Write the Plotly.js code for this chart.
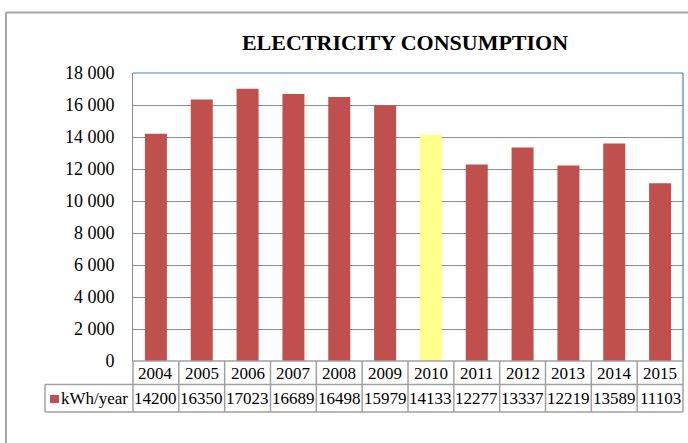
<!DOCTYPE html>
<html>
<head>
<meta charset="utf-8">
<script src="https://cdn.plot.ly/plotly-3.0.1.min.js"></script>
<style>
  html, body { margin: 0; padding: 0; background: #fff; }
  #chart { width: 688px; height: 443px; }
</style>
</head>
<body>
<div id="chart"></div>
<script>
// ---- data ----
const years = ['2004','2005','2006','2007','2008','2009','2010','2011','2012','2013','2014','2015'];
const consumption = [14200, 16350, 17023, 16689, 16498, 15979, 14133, 12277, 13337, 12219, 13589, 11103];
const highlightYear = '2010';
const seriesName = 'kWh/year';
const chartTitle = 'ELECTRICITY CONSUMPTION';
const yTickVals = [0, 2000, 4000, 6000, 8000, 10000, 12000, 14000, 16000, 18000];
const yTickText = ['0', '2 000', '4 000', '6 000', '8 000', '10 000', '12 000', '14 000', '16 000', '18 000'];

// ---- geometry (pixels) ----
const W = 688, H = 443;
const L = 133, R = 683, T = 73, B = 361;
const pw = R - L, ph = B - T;
const px = x => (x - L) / pw;        // pixel x -> paper x
const py = y => (B - y) / ph;        // pixel y -> paper y

const barColor = '#C0504D';
const hiColor = '#FFFF8C';
const gridCol = '#8c8c8c';
const cellCol = '#a0a0a0';
const blue = '#4F81BD';
const font = '"Liberation Serif", "Times New Roman", serif';

const colors = years.map(y => y === highlightYear ? hiColor : barColor);

const shapes = [];
const annotations = [];

// outer chart frame
shapes.push({type:'line', xref:'paper', yref:'paper', x0:px(6), x1:px(6), y0:py(12.5), y1:py(460), line:{color:'#a6a6a6', width:2}});
shapes.push({type:'line', xref:'paper', yref:'paper', x0:px(6), x1:px(700), y0:py(12.5), y1:py(12.5), line:{color:'#a6a6a6', width:2}});

// plot area top & right borders (blue)
shapes.push({type:'line', xref:'paper', yref:'paper', x0:0, x1:1, y0:1, y1:1, line:{color:blue, width:1.2}});
shapes.push({type:'line', xref:'paper', yref:'paper', x0:1, x1:1, y0:0, y1:1, line:{color:blue, width:1.2}});

// data table
const rowTop = 361, rowMid = 384.5, rowBot = 412;
const legLeft = 45;
shapes.push({type:'line', xref:'paper', yref:'paper', x0:0, x1:1, y0:py(rowTop), y1:py(rowTop), line:{color:cellCol, width:1.5}});
shapes.push({type:'line', xref:'paper', yref:'paper', x0:px(legLeft), x1:1, y0:py(rowMid), y1:py(rowMid), line:{color:cellCol, width:1.5}});
shapes.push({type:'line', xref:'paper', yref:'paper', x0:px(legLeft), x1:1, y0:py(rowBot), y1:py(rowBot), line:{color:cellCol, width:1.5}});
shapes.push({type:'line', xref:'paper', yref:'paper', x0:px(legLeft), x1:px(legLeft), y0:py(rowMid), y1:py(rowBot), line:{color:cellCol, width:1.5}});
shapes.push({type:'line', xref:'paper', yref:'paper', x0:0, x1:0, y0:py(rowTop), y1:py(rowBot), line:{color:cellCol, width:1.5}});
shapes.push({type:'line', xref:'paper', yref:'paper', x0:1, x1:1, y0:py(rowTop), y1:py(rowBot), line:{color:cellCol, width:1.5}});
for (let i = 0; i < years.length - 1; i++) {
  shapes.push({type:'line', xref:'x', yref:'paper', x0:i + 0.5, x1:i + 0.5, y0:py(rowTop), y1:py(rowBot), line:{color:cellCol, width:1.5}});
}
// legend key
shapes.push({type:'rect', xref:'paper', yref:'paper', x0:px(50), x1:px(59), y0:py(403), y1:py(395), fillcolor:barColor, line:{width:0}});
annotations.push({xref:'paper', yref:'paper', x:px(59), y:py(398.5), text:seriesName, showarrow:false, xanchor:'left', yanchor:'middle', font:{family:font, size:17, color:'#000'}});

years.forEach((yr, i) => {
  annotations.push({xref:'x', yref:'paper', x:i, y:py(373), text:yr, showarrow:false, xanchor:'center', yanchor:'middle', font:{family:font, size:17, color:'#000'}});
  annotations.push({xref:'x', yref:'paper', x:i, y:py(398.5), text:String(consumption[i]), showarrow:false, xanchor:'center', yanchor:'middle', font:{family:font, size:17, color:'#000'}});
});

const trace = {
  type: 'bar',
  x: years,
  y: consumption,
  name: seriesName,
  marker: { color: colors, line: { width: 0 } },
  hoverinfo: 'x+y'
};

const layout = {
  width: W, height: H,
  margin: { l: L, r: W - R, t: T, b: H - B },
  paper_bgcolor: '#fff', plot_bgcolor: '#fff',
  showlegend: false,
  bargap: 0.52,
  title: {
    text: '<b>' + chartTitle + '</b>',
    font: { family: font, size: 22, color: '#000' },
    x: 405 / W, xanchor: 'center', xref: 'container',
    y: 1 - 42 / H, yanchor: 'middle', yref: 'container'
  },
  xaxis: {
    type: 'category',
    range: [-0.5, years.length - 0.5],
    showticklabels: false,
    ticks: '',
    showgrid: false,
    zeroline: false,
    showline: false
  },
  yaxis: {
    range: [0, 18000],
    tickvals: yTickVals,
    ticktext: yTickText,
    tickfont: { family: font, size: 18, color: '#000' },
    ticks: '',
    ticklabelstandoff: 14,
    showgrid: true,
    gridcolor: gridCol,
    gridwidth: 1,
    zeroline: false,
    showline: true,
    linecolor: gridCol,
    linewidth: 1
  },
  shapes: shapes,
  annotations: annotations
};

Plotly.newPlot('chart', [trace], layout, { displayModeBar: false, staticPlot: true });
</script>
</body>
</html>
